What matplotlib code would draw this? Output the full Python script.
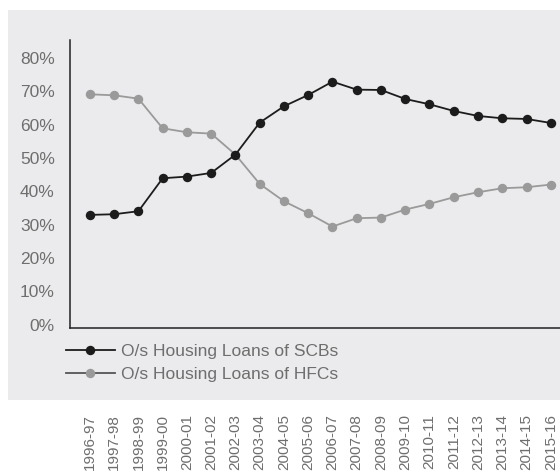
import matplotlib
matplotlib.use("Agg")
import matplotlib.pyplot as plt
from matplotlib.lines import Line2D
from matplotlib.patches import Rectangle
from matplotlib.ticker import FuncFormatter

plt.rcParams['font.family'] = ['Liberation Sans', 'DejaVu Sans']

years = ["1996-97", "1997-98", "1998-99", "1999-00", "2000-01", "2001-02",
         "2002-03", "2003-04", "2004-05", "2005-06", "2006-07", "2007-08",
         "2008-09", "2009-10", "2010-11", "2011-12", "2012-13", "2013-14",
         "2014-15", "2015-16"]

scb_share = [32.9, 33.1, 34.0, 43.9, 44.4, 45.5, 51.0, 60.6, 65.5, 68.9,
             72.9, 70.5, 70.4, 67.7, 66.1, 64.1, 62.6, 61.9, 61.7, 60.5]
hfc_share = [69.1, 68.8, 67.8, 58.9, 57.7, 57.3, 51.0, 42.2, 37.0, 33.4,
             29.4, 31.9, 32.1, 34.5, 36.2, 38.2, 39.7, 40.9, 41.2, 42.0]

series_labels = ["O/s Housing Loans of SCBs", "O/s Housing Loans of HFCs"]
y_ticks = [0, 10, 20, 30, 40, 50, 60, 70, 80]

W, H = 560, 471
bg = "#ebebed"
text_col = "#6e6e6e"

fig = plt.figure(figsize=(W / 100, H / 100), dpi=100)
fig.patch.set_facecolor("white")
fig.patches.append(Rectangle((8 / W, 1 - 400 / H), 1 - 8 / W, (400 - 10) / H,
                             transform=fig.transFigure, facecolor=bg,
                             edgecolor="none", zorder=-10))

ax = fig.add_axes([70 / W, 1 - 328 / H, 1 - 70 / W, (328 - 40) / H])
ax.set_facecolor("none")

x = list(range(len(years)))
ax.plot(x, scb_share, color="#1c1c1c", lw=1.3, marker="o", ms=6.8,
        markeredgewidth=0, zorder=3, clip_on=False)
ax.plot(x, hfc_share, color="#9a9a9a", lw=1.3, marker="o", ms=6.8,
        markeredgewidth=0, zorder=2, clip_on=False)

ax.set_xlim(-0.82, 19.38)
ax.set_ylim(-1.05, 85.4)

ax.set_yticks(y_ticks)
ax.yaxis.set_major_formatter(FuncFormatter(lambda v, p: f"{v:.0f}%"))
ax.tick_params(axis="y", length=0, pad=11, labelsize=12.5, labelcolor=text_col)

ax.set_xticks(x)
ax.set_xticklabels(years, rotation=90)
ax.tick_params(axis="x", length=0, pad=62, labelsize=11, labelcolor=text_col)

for s in ("top", "right"):
    ax.spines[s].set_visible(False)
for s in ("left", "bottom"):
    ax.spines[s].set_color("#222222")
    ax.spines[s].set_linewidth(1.1)

handles = [
    Line2D([], [], color="#1c1c1c", lw=1.3, marker="o", ms=6.8, markeredgewidth=0),
    Line2D([], [], color="#555555", lw=1.3, marker="o", ms=6.8,
           markerfacecolor="#9a9a9a", markeredgewidth=0),
]
fig.legend(handles, series_labels, loc="upper left",
           bbox_to_anchor=(66 / W, 1 - 344 / H), frameon=False,
           fontsize=12.5, labelcolor=text_col, handlelength=2.8,
           handletextpad=0.35, labelspacing=0.45, borderpad=0, borderaxespad=0)

fig.savefig("out.png", dpi=100)
